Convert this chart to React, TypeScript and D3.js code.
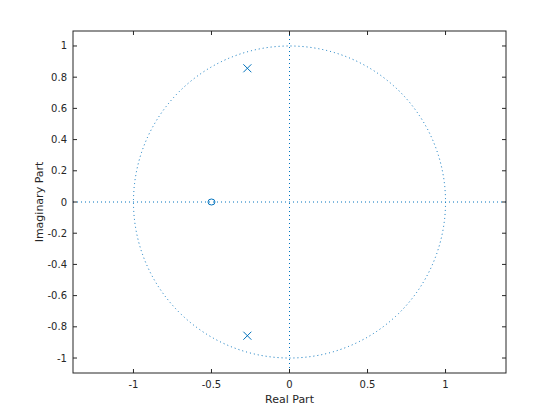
import React from "react";
import * as d3 from "d3";

const zerosRe = [-0.5];
const zerosIm = [0];
const polesRe = [-0.27, -0.27];
const polesIm = [0.857, -0.857];
const xTicks = [-1, -0.5, 0, 0.5, 1];
const yTicks = [-1, -0.8, -0.6, -0.4, -0.2, 0, 0.2, 0.4, 0.6, 0.8, 1];

const W = 560, H = 420;
const L = 73, R = 506, T = 31, B = 373;
const BLUE = "#0072BD";
const INK = "#262626";
const FONT = "DejaVu Sans, sans-serif";

export default function App() {
  const x = d3.scaleLinear().domain([-1.3875, 1.3875]).range([L, R]);
  const y = d3.scaleLinear().domain([-1.096, 1.096]).range([B, T]);
  const fmt = (v: number) => (Math.abs(v) < 1e-9 ? "0" : String(+v.toFixed(1)));
  const r = x(1) - x(0);
  const ry = y(0) - y(1);
  return (
    <svg width={W} height={H} style={{ position: "absolute", left: 0, top: 0, background: "#fff" }}>
      <rect x={0} y={0} width={W} height={H} fill="#fff" />
      {/* unit circle */}
      <ellipse cx={x(0)} cy={y(0)} rx={r} ry={ry} fill="none" stroke={BLUE} strokeWidth={1} strokeDasharray="1,3" />
      {/* axes lines */}
      <line x1={L} x2={R} y1={y(0)} y2={y(0)} stroke={BLUE} strokeWidth={1} strokeDasharray="1,3" />
      <line x1={x(0)} x2={x(0)} y1={T} y2={B} stroke={BLUE} strokeWidth={1} strokeDasharray="1,3" />
      {/* zeros */}
      {zerosRe.map((re, i) => (
        <ellipse key={"z" + i} cx={x(re)} cy={y(zerosIm[i])} rx={3.5} ry={3} fill="none" stroke={BLUE} strokeWidth={1} />
      ))}
      {/* poles */}
      {polesRe.map((re, i) => {
        const cx = x(re), cy = y(polesIm[i]), s = 4;
        return (
          <g key={"p" + i} stroke={BLUE} strokeWidth={1}>
            <line x1={cx - s} y1={cy - s} x2={cx + s} y2={cy + s} />
            <line x1={cx - s} y1={cy + s} x2={cx + s} y2={cy - s} />
          </g>
        );
      })}
      {/* box */}
      <rect x={L} y={T} width={R - L} height={B - T} fill="none" stroke={INK} strokeWidth={1} />
      {/* ticks */}
      {xTicks.map((t) => (
        <g key={"xt" + t}>
          <line x1={x(t)} x2={x(t)} y1={B} y2={B - 4} stroke={INK} />
          <line x1={x(t)} x2={x(t)} y1={T} y2={T + 4} stroke={INK} />
          <text x={x(t)} y={B + 15} textAnchor="middle" fontFamily={FONT} fontSize={10} fill={INK}>{fmt(t)}</text>
        </g>
      ))}
      {yTicks.map((t) => (
        <g key={"yt" + t}>
          <line x1={L} x2={L + 4} y1={y(t)} y2={y(t)} stroke={INK} />
          <line x1={R} x2={R - 4} y1={y(t)} y2={y(t)} stroke={INK} />
          <text x={L - 6} y={y(t) + 3.5} textAnchor="end" fontFamily={FONT} fontSize={10} fill={INK}>{fmt(t)}</text>
        </g>
      ))}
      <text x={(L + R) / 2} y={403} textAnchor="middle" fontFamily={FONT} fontSize={11} fill={INK}>Real Part</text>
      <text transform={`translate(43,${(T + B) / 2}) rotate(-90)`} textAnchor="middle" fontFamily={FONT} fontSize={11} fill={INK}>Imaginary Part</text>
    </svg>
  );
}
